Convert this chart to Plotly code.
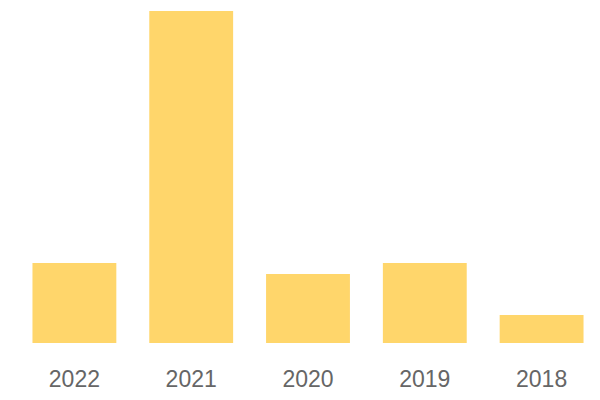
import plotly.graph_objects as go

years = ["2022", "2021", "2020", "2019", "2018"]
values = [80, 332, 69, 80, 28]
bar_color = "#FFD66B"

fig = go.Figure(go.Bar(x=years, y=values, marker=dict(color=bar_color, line=dict(width=0)),
                       hoverinfo="skip"))
fig.update_layout(
    width=600, height=400,
    margin=dict(l=8, r=8, t=3, b=65, autoexpand=False),
    paper_bgcolor="white", plot_bgcolor="white",
    bargap=0.282,
    showlegend=False,
    font=dict(family="Liberation Sans, Arial, sans-serif", size=23, color="#666666"),
)
fig.update_xaxes(showgrid=False, showline=False, zeroline=False, ticks="",
                 ticklabelstandoff=20,
                 tickfont=dict(size=23, color="#666666"))
fig.update_yaxes(visible=False, range=[0, 332], showgrid=False, zeroline=False)
fig.write_html("out.html")
